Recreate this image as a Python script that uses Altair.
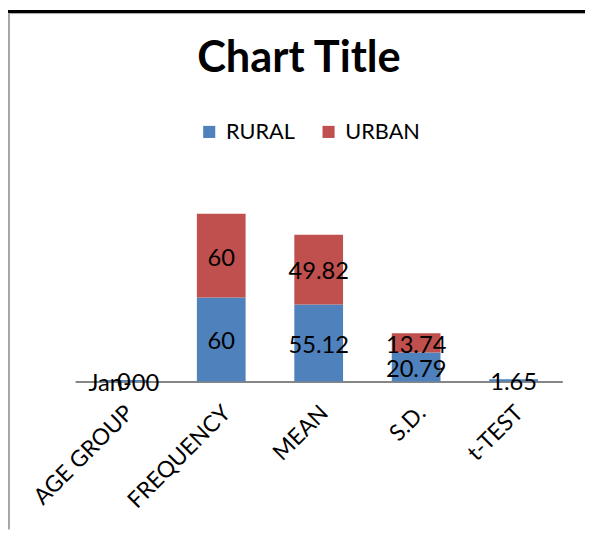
import altair as alt
import pandas as pd

title_text = ["Chart Title"]
categories = ["AGE GROUP", "FREQUENCY", "MEAN", "S.D.", "t-TEST"]
series = ["RURAL", "URBAN"]
rural_values = [1, 60, 55.12, 20.79, 1.65]
rural_labels = ["Jan-00", "60", "55.12", "20.79", "1.65"]
urban_values = [0, 60, 49.82, 13.74, None]
urban_labels = ["0", "60", "49.82", "13.74", None]
colors = ["#4F81BD", "#C0504D"]

rows = []
for i, c in enumerate(categories):
    r = rural_values[i]
    rows.append(dict(category=c, series="RURAL", start=0, end=r, mid=r / 2, label=rural_labels[i]))
    u = urban_values[i]
    if u is not None:
        rows.append(dict(category=c, series="URBAN", start=r, end=r + u, mid=r + u / 2, label=urban_labels[i]))
df = pd.DataFrame(rows)

FONT = "Lato"

x_enc = alt.X(
    "category:N",
    sort=categories,
    scale=alt.Scale(range=[68, 562], paddingInner=0.5, paddingOuter=0.25, round=False),
    axis=alt.Axis(
        title=None, labelAngle=315, labelAlign="right", labelBaseline="middle",
        labelPadding=28, labelOffset=6, ticks=False, domainColor="#868686",
        domainWidth=2, labelFont=FONT, labelFontSize=23, labelColor="black",
    ),
)
y_scale = alt.Scale(domain=[0, 264.6], nice=False, zero=True)

bars = alt.Chart(df).mark_bar().encode(
    x=x_enc,
    y=alt.Y("start:Q", scale=y_scale, axis=None),
    y2="end:Q",
    color=alt.Color(
        "series:N",
        scale=alt.Scale(domain=series, range=colors),
        legend=alt.Legend(
            title=None, orient="none", legendX=193, legendY=111, direction="horizontal",
            symbolType="square", symbolSize=150, symbolStrokeWidth=0,
            labelFont=FONT, labelFontSize=22, labelOffset=6, columnPadding=23,
            labelColor="black",
        ),
    ),
)

labels = alt.Chart(df).mark_text(font=FONT, fontSize=24, color="black", baseline="middle", dy=3).encode(
    x=x_enc,
    y=alt.Y("mid:Q", scale=y_scale, axis=None),
    text="label:N",
)

title = alt.Chart(pd.DataFrame({"t": title_text})).mark_text(
    font=FONT, fontSize=44, fontWeight="bold", color="black", baseline="alphabetic", align="center"
).encode(text="t:N", x=alt.value(295), y=alt.value(61))

frame_dummy = pd.DataFrame({"k": [0]})
top_black = alt.Chart(frame_dummy).mark_rule(color="black", strokeWidth=3).encode(
    x=alt.value(0), x2=alt.value(585), y=alt.value(0)
)
top_gray = alt.Chart(frame_dummy).mark_rule(color="#a6a6a6", strokeWidth=1).encode(
    x=alt.value(0.5), x2=alt.value(585), y=alt.value(2)
)
left_gray = alt.Chart(frame_dummy).mark_rule(color="#a6a6a6", strokeWidth=2).encode(
    x=alt.value(1), y=alt.value(1.5), y2=alt.value(525)
)

chart = alt.layer(bars, labels, title, top_black, top_gray, left_gray).properties(
    width=585, height=375, autosize="none",
    padding={"left": 0, "top": 0, "right": 0, "bottom": 150},
).configure_view(stroke=None)

chart.save("out.html", embed_options={"renderer": "svg", "actions": False})
